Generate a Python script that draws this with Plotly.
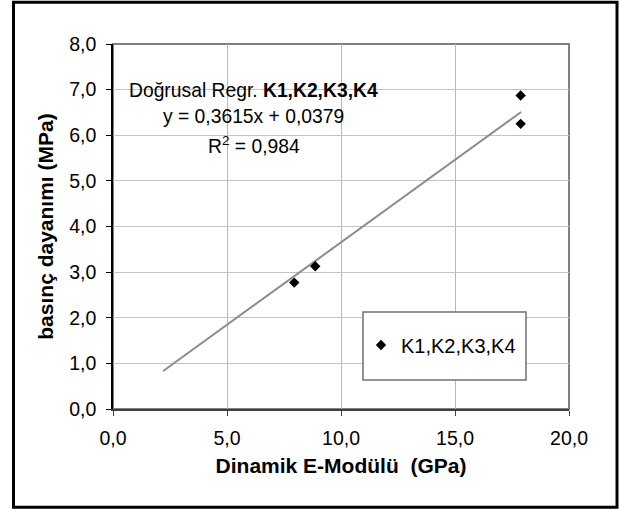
import plotly.graph_objects as go
import numpy as np

# Data
series_name = "K1,K2,K3,K4"
e_modulus = [7.95, 8.87, 17.88, 17.88]      # Dinamik E-Modülü (GPa)
strength = [2.77, 3.13, 6.87, 6.25]         # basınç dayanımı (MPa)
slope, intercept = 0.3615, 0.0379
trend_x_range = [2.2, 17.9]
x_ticks = [0, 5, 10, 15, 20]
y_ticks = [0, 1, 2, 3, 4, 5, 6, 7, 8]

FONT = "Liberation Sans, Arial, sans-serif"

trend_x = np.array(trend_x_range)
trend_y = slope * trend_x + intercept

fig = go.Figure()
fig.add_trace(go.Scatter(
    x=trend_x, y=trend_y, mode="lines",
    line=dict(color="#8c8c8c", width=2),
    showlegend=False, hoverinfo="skip"))
fig.add_trace(go.Scatter(
    x=e_modulus, y=strength, mode="markers", name=series_name,
    marker=dict(symbol="diamond", size=8, color="black")))

# outer border
fig.add_shape(type="rect", xref="paper", yref="paper",
              x0=-0.2182, x1=1.1053, y0=-0.2693, y1=1.1142,
              line=dict(color="black", width=3), fillcolor="rgba(0,0,0,0)", layer="above")
# plot-area border (top/right gray)
fig.add_shape(type="rect", xref="paper", yref="paper",
              x0=0, x1=1, y0=0, y1=1,
              line=dict(color="#808080", width=2), layer="below")
# white box behind regression text
fig.add_shape(type="rect", xref="paper", yref="paper",
              x0=0.0285, x1=0.594, y0=0.6575, y1=0.923,
              line=dict(width=0), fillcolor="white", layer="between")
# legend box
fig.add_shape(type="rect", xref="paper", yref="paper",
              x0=(363-113)/456, x1=(526-113)/456, y0=(409-380)/365, y1=(409-312)/365,
              line=dict(color="#707070", width=1.5), fillcolor="white", layer="above")

ann_lines = ["Doğrusal Regr. <b>K1,K2,K3,K4</b>",
             "y = 0,3615x + 0,0379",
             "R<sup>2</sup> = 0,984"]
ann_y = [0.872, 0.800, 0.722]
for t, yy in zip(ann_lines, ann_y):
    fig.add_annotation(text=t, xref="paper", yref="paper", x=0.309, y=yy,
                       xanchor="center", yanchor="middle", showarrow=False,
                       font=dict(family=FONT, size=19.3, color="black"))

fig.update_layout(
    width=620, height=510,
    margin=dict(l=113, r=51, t=44, b=101),
    paper_bgcolor="white", plot_bgcolor="white",
    separators=",.",
    font=dict(family=FONT, size=19.5, color="black"),
    showlegend=True,
    legend=dict(x=(361-113)/456, y=(409-345)/365, xanchor="left", yanchor="middle",
                bgcolor="rgba(0,0,0,0)", borderwidth=0,
                font=dict(family=FONT, size=20, color="black")),
    xaxis=dict(range=[0, 20], tickvals=x_ticks, tickformat=".1f",
               showgrid=True, gridcolor="#b8b8b8", gridwidth=1,
               showline=True, linecolor="#404040", linewidth=2,
               ticks="outside", ticklen=5, tickcolor="#404040",
               zeroline=False, fixedrange=True, ticklabelstandoff=6,
               tickfont=dict(family=FONT, size=19.5),
               title=dict(text="<b>Dinamik E-Modülü  (GPa)</b>",
                          font=dict(family=FONT, size=21), standoff=10)),
    yaxis=dict(range=[0, 8], tickvals=y_ticks, tickformat=".1f",
               showgrid=True, gridcolor="#c4c4c4", gridwidth=1,
               showline=True, linecolor="black", linewidth=1.5,
               ticks="outside", ticklen=5, tickcolor="black",
               zeroline=False, fixedrange=True, ticklabelstandoff=6,
               tickfont=dict(family=FONT, size=19.5),
               title=dict(text="<b>basınç dayanımı (MPa)</b>",
                          font=dict(family=FONT, size=21), standoff=10)),
)

fig.write_html("out.html")
